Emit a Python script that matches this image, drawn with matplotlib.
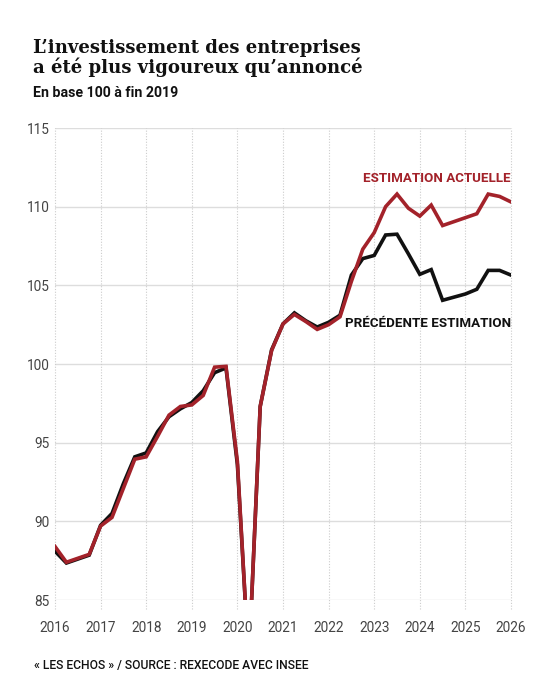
import numpy as np
import matplotlib.pyplot as plt

# Indice base 100 a fin 2019, donnees trimestrielles 2016 T1 -> 2026 T1
actuelle = [88.4, 87.4, 87.65, 87.9, 89.7, 90.25, 92.1, 93.95, 94.1, 95.4, 96.75, 97.3,
            97.4, 98.0, 99.8, 99.85, 93.8, 81.0, 97.3, 100.85, 102.55, 103.15, 102.7, 102.2,
            102.5, 103.0, 105.25, 107.3, 108.35, 110.0, 110.8, 109.9, 109.4, 110.1, 108.8, 109.05,
            109.3, 109.55, 110.8, 110.65, 110.3]
precedente = [88.1, 87.35, 87.6, 87.85, 89.75, 90.5, 92.4, 94.1, 94.35, 95.7, 96.65, 97.15,
              97.55, 98.3, 99.45, 99.75, 93.6, 81.0, 97.3, 100.9, 102.55, 103.25, 102.75, 102.35,
              102.65, 103.1, 105.65, 106.7, 106.9, 108.2, 108.25, 107.0, 105.7, 106.0, 104.05, 104.25,
              104.45, 104.75, 105.95, 105.95, 105.65]
annees = list(range(2016, 2027))
yticks = [85, 90, 95, 100, 105, 110, 115]

trimestres = 2016 + np.arange(len(actuelle)) * 0.25

W, H = 544, 680
red = '#a3222a'
sans = 'Roboto'

fig = plt.figure(figsize=(W / 100, H / 100), dpi=100)
ax = fig.add_axes([55 / W, 1 - 600 / H, (511 - 55) / W, (600 - 128) / H])

ax.plot(trimestres, precedente, color='#111111', lw=2.6, solid_joinstyle='miter', zorder=3)
ax.plot(trimestres, actuelle, color=red, lw=2.6, solid_joinstyle='miter', zorder=4)

ax.set_xlim(2016, 2026)
ax.set_ylim(85, 115)

for y in yticks:
    ax.axhline(y, color='#dddddd', lw=1, zorder=1)
ax.vlines(annees, 84.4, 115, colors='#cccccc', lw=0.8, linestyles=(0, (1, 1.5)),
          clip_on=False, zorder=1)

for s in ax.spines.values():
    s.set_visible(False)
ax.set_xticks(annees)
ax.set_yticks(yticks)
ax.tick_params(length=0, labelsize=9.8, labelcolor='#444444', pad=4)
ax.tick_params(axis='x', pad=15)
for lab in ax.get_xticklabels() + ax.get_yticklabels():
    lab.set_fontfamily(sans)

ax.text(2026, 111.8, 'ESTIMATION ACTUELLE', color=red, ha='right', va='center',
        fontsize=9.65, fontweight='bold', family=sans)
ax.text(2026, 102.6, 'PRÉCÉDENTE ESTIMATION', color='#111111', ha='right', va='center',
        fontsize=9.65, fontweight='bold', family=sans)

titre = ["L\u2019investissement des entreprises", "a été plus vigoureux qu\u2019annoncé"]
for i, ligne in enumerate(titre):
    fig.text(33 / W, 1 - (53 + 20 * i) / H, ligne, fontsize=13.1, fontweight='bold',
             family='DejaVu Serif', color='#111111', va='baseline')
fig.text(33 / W, 1 - 97 / H, 'En base 100 à fin 2019', fontsize=10.2, fontweight='bold',
         family=sans, color='#111111', va='baseline')
fig.text(34 / W, 1 - 669 / H, '« LES ECHOS » / SOURCE : REXECODE AVEC INSEE', fontsize=8.7,
         fontweight='medium', family=sans, color='#111111', va='baseline')

plt.savefig('out.png', dpi=100)
